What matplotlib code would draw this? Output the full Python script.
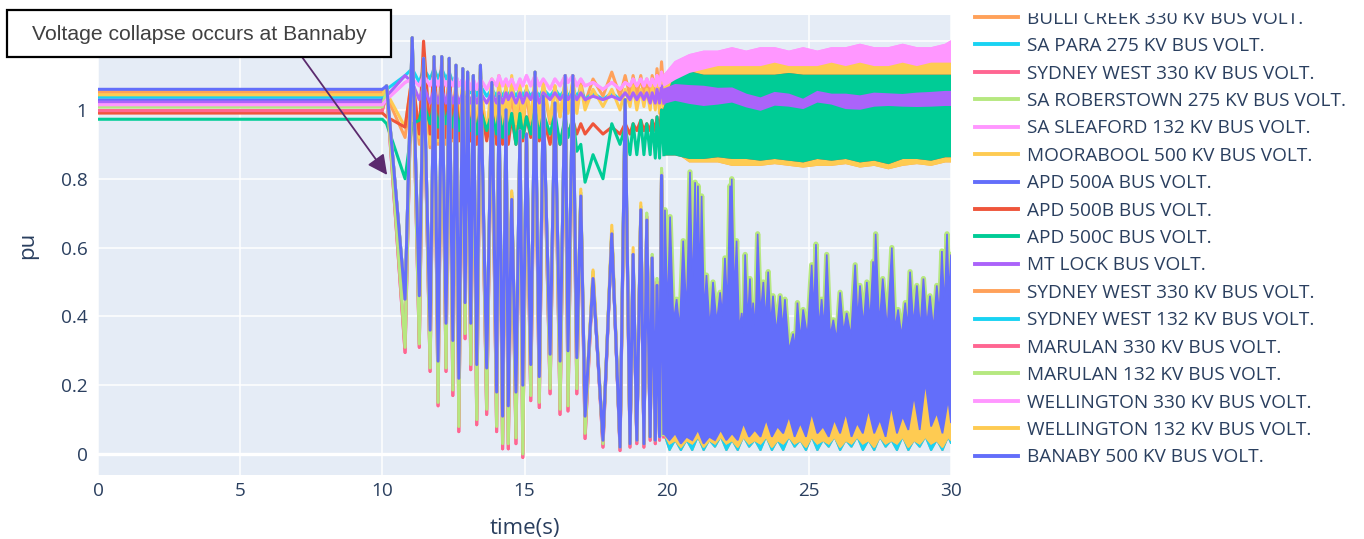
import numpy as np
import matplotlib.pyplot as plt
from matplotlib.lines import Line2D
from matplotlib.patches import Rectangle

plt.rcParams['font.family'] = ['Open Sans', 'DejaVu Sans']

names = [
    "BULLI CREEK 330 KV BUS VOLT.", "SA PARA 275 KV BUS VOLT.",
    "SYDNEY WEST 330 KV BUS VOLT.", "SA ROBERSTOWN 275 KV BUS VOLT.",
    "SA SLEAFORD 132 KV BUS VOLT.", "MOORABOOL 500 KV BUS VOLT.",
    "APD 500A BUS VOLT.", "APD 500B BUS VOLT.", "APD 500C BUS VOLT.",
    "MT LOCK BUS VOLT.", "SYDNEY WEST 330 KV BUS VOLT.",
    "SYDNEY WEST 132 KV BUS VOLT.", "MARULAN 330 KV BUS VOLT.",
    "MARULAN 132 KV BUS VOLT.", "WELLINGTON 330 KV BUS VOLT.",
    "WELLINGTON 132 KV BUS VOLT.", "BANABY 500 KV BUS VOLT.",
]
colors = ["#FFA15A", "#19D3F3", "#FF6692", "#B6E880", "#FF97FF", "#FECB52",
          "#636EFA", "#EF553B", "#00CC96", "#AB63FA", "#FFA15A", "#19D3F3",
          "#FF6692", "#B6E880", "#FF97FF", "#FECB52", "#636EFA"]

# pre-fault bus voltages (pu), held from 0 to 10 s
steady = [1.052, 1.038, 0.998, 1.009, 1.015, 1.044, 1.029, 0.991, 0.973,
          1.023, 1.052, 1.038, 0.998, 1.009, 1.015, 1.044, 1.060]

# post-fault swings, 10-20 s
swing_t = [10.15, 10.8, 11.05, 11.3, 11.45, 11.68, 11.82, 11.96, 12.09, 12.24,
           12.35, 12.48, 12.59, 12.69, 12.83, 12.91, 13.0, 13.11, 13.2, 13.32,
           13.45, 13.67, 13.85, 14.02, 14.1, 14.23, 14.35, 14.43, 14.55, 14.7,
           14.84, 14.94, 15.07, 15.22, 15.37, 15.52, 15.66, 15.9, 16.07, 16.25,
           16.43, 16.53, 16.7, 16.84, 16.98, 17.13, 17.41, 17.76, 18.07, 18.36,
           18.54, 18.71, 18.82, 18.95, 19.09, 19.2, 19.3, 19.42, 19.49, 19.6,
           19.66, 19.75, 19.82, 19.9]
banaby_swing = [1.07, 0.45, 1.21, 0.46, 1.15, 0.36, 1.155, 0.27, 1.155, 0.38,
                1.15, 0.33, 1.13, 0.22, 1.12, 0.44, 1.11, 0.38, 1.10, 0.26,
                1.13, 0.25, 1.08, 0.18, 1.04, 0.11, 1.0, 0.14, 0.74, 0.18,
                0.94, 0.20, 0.93, 0.26, 1.11, 0.225, 1.04, 0.29, 1.02, 0.27,
                1.10, 0.30, 1.10, 0.28, 0.75, 0.11, 0.51, 0.04, 0.64, 0.02,
                1.03, 0.03, 0.58, 0.04, 0.71, 0.03, 0.68, 0.05, 0.57, 0.04,
                0.49, 0.05, 0.81, 0.06]
well132_swing = [1.07, 0.45, 1.21, 0.46, 1.15, 0.36, 1.155, 0.27, 1.155, 0.38,
                 1.15, 0.33, 1.13, 0.22, 1.12, 0.44, 1.11, 0.38, 1.10, 0.26,
                 1.13, 0.25, 1.08, 0.18, 1.04, 0.11, 1.0, 0.14, 0.765, 0.18,
                 0.94, 0.20, 0.93, 0.26, 1.11, 0.225, 1.04, 0.29, 1.02, 0.27,
                 1.10, 0.30, 1.10, 0.28, 0.77, 0.11, 0.535, 0.04, 0.665, 0.02,
                 1.03, 0.03, 0.60, 0.04, 0.73, 0.03, 0.68, 0.05, 0.57, 0.04,
                 0.49, 0.05, 0.81, 0.06]
marulan132_swing = [1.06, 0.31, 1.20, 0.32, 1.14, 0.25, 1.15, 0.15, 1.15, 0.25,
                    1.14, 0.186, 1.12, 0.08, 1.11, 0.35, 1.10, 0.26, 1.09, 0.10,
                    1.12, 0.13, 1.07, 0.08, 1.03, 0.03, 0.99, 0.03, 0.76, 0.047,
                    0.93, 0.0, 0.92, 0.17, 1.10, 0.15, 1.03, 0.19, 1.01, 0.13,
                    1.09, 0.14, 1.09, 0.19, 0.76, 0.06, 0.53, 0.03, 0.65, 0.02,
                    1.0, 0.03, 0.57, 0.04, 0.72, 0.03, 0.70, 0.05, 0.58, 0.04,
                    0.51, 0.05, 0.83, 0.06]
marulan330_swing = [1.05, 0.295, 1.19, 0.31, 1.13, 0.24, 1.14, 0.14, 1.14, 0.24,
                    1.13, 0.17, 1.11, 0.065, 1.10, 0.335, 1.09, 0.245, 1.08, 0.085,
                    1.11, 0.115, 1.06, 0.065, 1.02, 0.015, 0.98, 0.015, 0.75, 0.03,
                    0.92, -0.01, 0.91, 0.155, 1.09, 0.135, 1.02, 0.175, 1.0, 0.115,
                    1.08, 0.125, 1.08, 0.175, 0.75, 0.045, 0.52, 0.02, 0.64, 0.01,
                    0.99, 0.02, 0.56, 0.03, 0.71, 0.02, 0.69, 0.04, 0.57, 0.03,
                    0.50, 0.04, 0.82, 0.05]
sleaford_swing = [1.03, 1.08, 1.09, 1.07, 1.10, 1.07, 1.10, 1.07, 1.10, 1.07,
                  1.09, 1.07, 1.10, 1.07, 1.09, 1.06, 1.09, 1.06, 1.09, 1.06,
                  1.09, 1.06, 1.09, 1.07, 1.10, 1.07, 1.09, 1.07, 1.09, 1.06,
                  1.09, 1.07, 1.10, 1.07, 1.10, 1.07, 1.09, 1.06, 1.09, 1.07,
                  1.10, 1.08, 1.10, 1.07, 1.09, 1.07, 1.08, 1.06, 1.08, 1.06,
                  1.08, 1.07, 1.09, 1.07, 1.09, 1.07, 1.09, 1.07, 1.09, 1.07,
                  1.10, 1.07, 1.11, 1.08]
moorabool_swing = [1.05, 0.95, 1.10, 0.92, 1.14, 0.90, 1.13, 0.91, 1.12, 0.92,
                   1.12, 0.93, 1.10, 0.93, 1.09, 0.94, 1.08, 0.93, 1.09, 0.92,
                   1.08, 0.93, 1.09, 0.95, 1.10, 0.96, 1.08, 0.95, 1.10, 0.96,
                   1.08, 0.95, 1.07, 0.97, 1.10, 0.96, 1.08, 0.97, 1.07, 0.98,
                   1.09, 0.99, 1.09, 0.99, 1.07, 1.0, 1.06, 1.01, 1.06, 1.0,
                   1.06, 1.01, 1.07, 1.0, 1.06, 1.01, 1.06, 1.0, 1.07, 1.0,
                   1.08, 0.99, 1.10, 0.98]
mtlock_swing = [1.04, 1.10, 1.08, 1.03, 1.07, 1.02, 1.06, 1.02, 1.06, 1.02,
                1.06, 1.02, 1.05, 1.02, 1.05, 1.02, 1.05, 1.02, 1.05, 1.02,
                1.05, 1.02, 1.05, 1.02, 1.05, 1.02, 1.05, 1.03, 1.05, 1.02,
                1.05, 1.02, 1.05, 1.03, 1.06, 1.02, 1.05, 1.03, 1.05, 1.03,
                1.05, 1.03, 1.05, 1.03, 1.05, 1.03, 1.04, 1.03, 1.04, 1.03,
                1.05, 1.03, 1.05, 1.03, 1.05, 1.03, 1.05, 1.02, 1.05, 1.02,
                1.06, 1.02, 1.07, 1.02]
apd500c_swing = [0.96, 0.80, 0.96, 0.97, 1.02, 0.96, 1.02, 0.95, 1.01, 0.96,
                 1.01, 0.95, 1.01, 0.94, 1.00, 0.95, 1.00, 0.94, 1.00, 0.93,
                 1.00, 0.94, 0.99, 0.93, 1.00, 0.92, 0.99, 0.93, 0.99, 0.90,
                 0.99, 0.92, 0.98, 0.93, 1.00, 0.92, 0.99, 0.93, 0.99, 0.90,
                 0.98, 0.92, 0.98, 0.88, 0.90, 0.79, 0.87, 0.80, 0.96, 0.90,
                 0.95, 0.87, 0.96, 0.87, 0.97, 0.87, 0.96, 0.87, 0.97, 0.86,
                 0.98, 0.86, 1.00, 0.87]
apd500b_swing = [0.98, 0.95, 1.10, 0.93, 1.20, 0.93, 1.15, 0.92, 1.15, 0.92,
                 1.13, 0.92, 1.08, 0.91, 1.04, 0.92, 1.03, 0.91, 1.02, 0.90,
                 1.02, 0.91, 1.00, 0.90, 1.00, 0.90, 0.99, 0.90, 0.98, 0.90,
                 0.98, 0.91, 0.98, 0.92, 0.99, 0.91, 0.98, 0.90, 0.97, 0.90,
                 0.97, 0.93, 0.97, 0.93, 0.96, 0.93, 0.96, 0.93, 0.95, 0.93,
                 0.96, 0.93, 0.96, 0.94, 0.97, 0.94, 0.96, 0.94, 0.97, 0.94,
                 0.98, 0.94, 1.0, 0.94]
bulli_swing = [1.04, 0.92, 1.08, 0.90, 1.12, 0.89, 1.12, 0.90, 1.11, 0.90,
               1.10, 0.91, 1.09, 0.91, 1.08, 0.92, 1.07, 0.91, 1.07, 0.91,
               1.07, 0.92, 1.06, 0.93, 1.06, 0.93, 1.06, 0.93, 1.06, 0.93,
               1.06, 0.93, 1.06, 0.94, 1.07, 0.95, 1.07, 0.96, 1.07, 0.98,
               1.08, 1.00, 1.08, 1.0, 1.08, 1.02, 1.09, 1.04, 1.11, 1.04,
               1.10, 1.04, 1.10, 1.04, 1.10, 1.04, 1.09, 1.04, 1.10, 1.05,
               1.12, 1.05, 1.14, 1.05]
para_swing = [1.06, 1.10, 1.12, 1.08, 1.12, 1.09, 1.12, 1.09, 1.12, 1.09,
              1.11, 1.08, 1.10, 1.07, 1.09, 1.06, 1.08, 1.05, 1.07, 1.04,
              1.07, 1.04, 1.06, 1.04, 1.06, 1.04, 1.06, 1.04, 1.06, 1.04,
              1.06, 1.04, 1.06, 1.04, 1.06, 1.04, 1.06, 1.04, 1.06, 1.04,
              1.06, 1.04, 1.06, 1.04, 1.06, 1.03, 1.05, 1.03, 1.05, 1.03,
              1.05, 1.03, 1.05, 1.03, 1.05, 1.03, 1.05, 1.03, 1.05, 1.03,
              1.05, 1.03, 1.05, 1.03]

# 20-30 s: fast oscillation, kept as upper / lower envelopes
up_t = [19.9, 20.3, 20.8, 21.3, 21.8, 22.3, 22.8, 23.3, 23.8, 24.3, 24.8,
        25.3, 25.8, 26.3, 26.8, 27.3, 27.8, 28.3, 28.8, 29.3, 29.8, 30.0]
sleaford_hi = [1.10, 1.14, 1.16, 1.17, 1.17, 1.18, 1.17, 1.18, 1.18, 1.17, 1.18,
               1.17, 1.18, 1.18, 1.19, 1.18, 1.18, 1.19, 1.18, 1.18, 1.19, 1.20]
sleaford_lo = [1.07, 1.09, 1.11, 1.12, 1.13, 1.13, 1.13, 1.13, 1.14, 1.13, 1.13,
               1.13, 1.14, 1.13, 1.14, 1.13, 1.13, 1.14, 1.13, 1.14, 1.14, 1.14]
moorabool_hi = [1.10, 1.13, 1.14, 1.14, 1.15, 1.15, 1.15, 1.15, 1.16, 1.15, 1.15,
                1.15, 1.15, 1.16, 1.15, 1.16, 1.15, 1.15, 1.15, 1.16, 1.16, 1.16]
moorabool_lo = [0.98, 0.88, 0.85, 0.85, 0.85, 0.84, 0.84, 0.84, 0.845, 0.84, 0.835,
                0.84, 0.84, 0.845, 0.835, 0.84, 0.83, 0.84, 0.845, 0.84, 0.85, 0.85]
apd500c_hi = [1.0, 1.11, 1.11, 1.10, 1.10, 1.10, 1.10, 1.10, 1.10, 1.105, 1.10,
              1.10, 1.10, 1.10, 1.10, 1.10, 1.10, 1.10, 1.10, 1.10, 1.10, 1.10]
apd500c_lo = [0.87, 0.87, 0.86, 0.86, 0.865, 0.86, 0.86, 0.855, 0.86, 0.855, 0.85,
              0.86, 0.855, 0.86, 0.85, 0.855, 0.845, 0.86, 0.86, 0.855, 0.865, 0.865]
mtlock_hi = [1.06, 1.073, 1.07, 1.068, 1.062, 1.063, 1.045, 1.034, 1.05, 1.045, 1.03,
             1.053, 1.045, 1.045, 1.04, 1.048, 1.046, 1.044, 1.048, 1.05, 1.053, 1.053]
mtlock_lo = [1.02, 1.029, 1.02, 1.014, 1.018, 1.024, 1.01, 1.0, 1.015, 1.012, 1.005,
             1.024, 1.018, 1.005, 1.003, 1.012, 1.014, 1.012, 1.011, 1.012, 1.014, 1.014]

hi_t = [19.9, 19.94, 20.03, 20.12, 20.24, 20.35, 20.46, 20.58, 20.7, 20.82,
        20.91, 21.0, 21.05, 21.1, 21.17, 21.23, 21.32, 21.4, 21.52, 21.63,
        21.76, 21.88, 21.96, 22.05, 22.14, 22.23, 22.26, 22.29, 22.38, 22.46,
        22.55, 22.64, 22.7, 22.76, 22.85, 22.93, 22.99, 23.04, 23.12, 23.2,
        23.3, 23.4, 23.48, 23.57, 23.66, 23.74, 23.86, 23.99, 24.08, 24.16,
        24.3, 24.45, 24.52, 24.6, 24.7, 24.8, 24.95, 25.1, 25.18, 25.25,
        25.35, 25.45, 25.54, 25.63, 25.75, 25.86, 25.98, 26.1, 26.22, 26.33,
        26.48, 26.63, 26.72, 26.8, 26.92, 27.04, 27.15, 27.26, 27.3, 27.35,
        27.48, 27.6, 27.76, 27.92, 28.03, 28.14, 28.26, 28.39, 28.48, 28.56,
        28.68, 28.8, 28.92, 29.03, 29.15, 29.26, 29.38, 29.5, 29.59, 29.68,
        29.77, 29.86, 29.93, 30.0]
banaby_hi = [0.06, 0.71, 0.40, 0.69, 0.38, 0.45, 0.36, 0.62, 0.40, 0.82,
             0.45, 0.79, 0.50, 0.78, 0.48, 0.75, 0.40, 0.52, 0.36, 0.50,
             0.38, 0.47, 0.40, 0.57, 0.42, 0.78, 0.55, 0.80, 0.45, 0.62,
             0.36, 0.41, 0.35, 0.58, 0.38, 0.51, 0.37, 0.44, 0.36, 0.64,
             0.40, 0.50, 0.38, 0.53, 0.37, 0.46, 0.35, 0.46, 0.36, 0.45,
             0.30, 0.35, 0.30, 0.44, 0.33, 0.42, 0.34, 0.55, 0.40, 0.61,
             0.36, 0.45, 0.36, 0.58, 0.34, 0.39, 0.33, 0.47, 0.35, 0.41,
             0.34, 0.55, 0.38, 0.49, 0.37, 0.50, 0.38, 0.56, 0.45, 0.64,
             0.37, 0.51, 0.36, 0.60, 0.36, 0.42, 0.34, 0.44, 0.36, 0.53,
             0.37, 0.49, 0.36, 0.51, 0.37, 0.46, 0.36, 0.49, 0.40, 0.59,
             0.42, 0.64, 0.45, 0.58]
lo_t = [19.9, 20.1, 20.3, 20.5, 20.7, 20.9, 21.1, 21.3, 21.5, 21.7,
        21.9, 22.1, 22.3, 22.5, 22.7, 22.9, 23.1, 23.3, 23.5, 23.7,
        23.9, 24.1, 24.3, 24.5, 24.7, 24.9, 25.1, 25.3, 25.5, 25.7,
        25.9, 26.1, 26.3, 26.5, 26.7, 26.9, 27.1, 27.3, 27.5, 27.7,
        27.9, 28.1, 28.3, 28.5, 28.7, 28.9, 29.1, 29.3, 29.5, 29.7,
        29.9, 30.0]
banaby_lo = [0.06, 0.04, 0.06, 0.03, 0.05, 0.04, 0.07, 0.03, 0.05, 0.04,
             0.07, 0.04, 0.06, 0.04, 0.09, 0.05, 0.07, 0.05, 0.10, 0.05,
             0.08, 0.06, 0.11, 0.05, 0.09, 0.05, 0.12, 0.06, 0.08, 0.05,
             0.10, 0.06, 0.12, 0.05, 0.09, 0.06, 0.13, 0.06, 0.10, 0.05,
             0.14, 0.06, 0.11, 0.07, 0.17, 0.07, 0.21, 0.08, 0.12, 0.06,
             0.16, 0.09]
well132_lo = [0.06, 0.03, 0.04, 0.02, 0.04, 0.03, 0.05, 0.02, 0.04, 0.03,
              0.05, 0.03, 0.04, 0.02, 0.05, 0.03, 0.04, 0.03, 0.05, 0.02,
              0.04, 0.03, 0.05, 0.03, 0.04, 0.02, 0.05, 0.03, 0.04, 0.03,
              0.05, 0.02, 0.04, 0.03, 0.05, 0.03, 0.04, 0.02, 0.05, 0.03,
              0.04, 0.03, 0.05, 0.02, 0.04, 0.03, 0.05, 0.03, 0.04, 0.02,
              0.05, 0.04]
sydw132_lo = [0.06, 0.01, 0.04, 0.01, 0.04, 0.01, 0.05, 0.01, 0.04, 0.02,
              0.05, 0.01, 0.04, 0.01, 0.05, 0.02, 0.04, 0.01, 0.05, 0.01,
              0.04, 0.01, 0.05, 0.02, 0.04, 0.01, 0.05, 0.01, 0.04, 0.02,
              0.05, 0.01, 0.04, 0.02, 0.05, 0.01, 0.04, 0.01, 0.05, 0.02,
              0.04, 0.01, 0.05, 0.01, 0.04, 0.02, 0.05, 0.01, 0.04, 0.01,
              0.05, 0.03]

swings = [bulli_swing, para_swing, marulan330_swing, marulan132_swing,
          sleaford_swing, moorabool_swing, banaby_swing, apd500b_swing,
          apd500c_swing, mtlock_swing, banaby_swing, banaby_swing,
          marulan330_swing, marulan132_swing, sleaford_swing, well132_swing,
          banaby_swing]
upper = (up_t, up_t)
lower = (hi_t, lo_t)
bands = [
    (upper, moorabool_hi, moorabool_lo),
    (upper, mtlock_hi, mtlock_lo),
    (lower, banaby_hi, well132_lo),
    (lower, banaby_hi, well132_lo),
    (upper, sleaford_hi, sleaford_lo),
    (upper, moorabool_hi, moorabool_lo),
    (lower, banaby_hi, banaby_lo),
    (upper, apd500c_hi, apd500c_lo),
    (upper, apd500c_hi, apd500c_lo),
    (upper, mtlock_hi, mtlock_lo),
    (lower, banaby_hi, sydw132_lo),
    (lower, banaby_hi, sydw132_lo),
    (lower, banaby_hi, well132_lo),
    (lower, banaby_hi, well132_lo),
    (upper, sleaford_hi, sleaford_lo),
    (lower, banaby_hi, well132_lo),
    (lower, banaby_hi, banaby_lo),
]

fig = plt.figure(figsize=(13.64, 5.39), dpi=100)
ax = fig.add_axes([98 / 1364, 64 / 539, 853 / 1364, 460 / 539])
ax.set_facecolor("#E5ECF6")
for sp in ax.spines.values():
    sp.set_visible(False)

for i, name in enumerate(names):
    c = colors[i]
    t = np.r_[0.0, 10.0, swing_t]
    v = np.r_[steady[i], steady[i], swings[i]]
    ax.plot(t, v, color=c, lw=2.2, solid_joinstyle="round", zorder=3 + i)
    (ht, lt), hi, lo = bands[i]
    ax.fill(np.r_[ht, lt[::-1]], np.r_[hi, lo[::-1]], color=c, lw=1.2,
            zorder=3 + i)
    if name.startswith("MARULAN 132"):
        # light-green peaks poke out above the Banaby trace
        ax.plot(hi_t, banaby_hi, color=c, lw=3.8, solid_joinstyle="round",
                zorder=3 + i)

ax.set_xlim(0, 30)
ax.set_ylim(-0.061, 1.276)
ax.set_xticks([0, 5, 10, 15, 20, 25, 30])
ax.set_yticks([0, 0.2, 0.4, 0.6, 0.8, 1, 1.2])
ax.set_yticklabels(["0", "0.2", "0.4", "0.6", "0.8", "1", ""])
ax.grid(color="white", lw=1.1)
ax.set_axisbelow(True)
ax.axhline(0, color="white", lw=2.4, zorder=2)
ax.tick_params(length=0, labelsize=13.7, colors="#2a3f5f")
ax.tick_params(axis="x", pad=5)
ax.tick_params(axis="y", pad=7.5)
ax.set_xlabel("time(s)", fontsize=16, color="#2a3f5f", labelpad=13)
ax.set_ylabel("pu", fontsize=16, color="#2a3f5f", labelpad=16)

handles = [Line2D([], [], color=c, lw=2.8) for c in colors]
fig.legend(handles, names, loc="upper left", bbox_to_anchor=(975 / 1364, 0.982),
           frameon=False, fontsize=13.7, labelcolor="#2a3f5f", labelspacing=0.495,
           handlelength=2.26, handletextpad=0.47, borderpad=0, borderaxespad=0)
fig.patches.append(Rectangle((960 / 1364, 1 - 12 / 539), 404 / 1364, 12 / 539,
                             transform=fig.transFigure, color="white", zorder=20))

# callout box with arrow pointing at the Banaby collapse
fig.patches.append(Rectangle((7 / 1364, 1 - 57 / 539), 384 / 1364, 47 / 539,
                             transform=fig.transFigure, facecolor="white",
                             edgecolor="black", lw=1.6, zorder=30))
fig.text(199 / 1364, 1 - 34 / 539, "Voltage collapse occurs at Bannaby",
         family=["Liberation Sans", "DejaVu Sans"], fontsize=15.2,
         color="#404040", ha="center", va="center", zorder=31)
ax.annotate("", xy=(10.17, 0.811), xycoords="data",
            xytext=(302 / 1364, 1 - 57 / 539), textcoords="figure fraction",
            arrowprops=dict(arrowstyle="-|>,head_length=0.6,head_width=0.3",
                            color="#5b2a6e", lw=1.3, mutation_scale=20,
                            shrinkA=0, shrinkB=0),
            annotation_clip=False, zorder=40)

fig.savefig("out.png", dpi=100)
